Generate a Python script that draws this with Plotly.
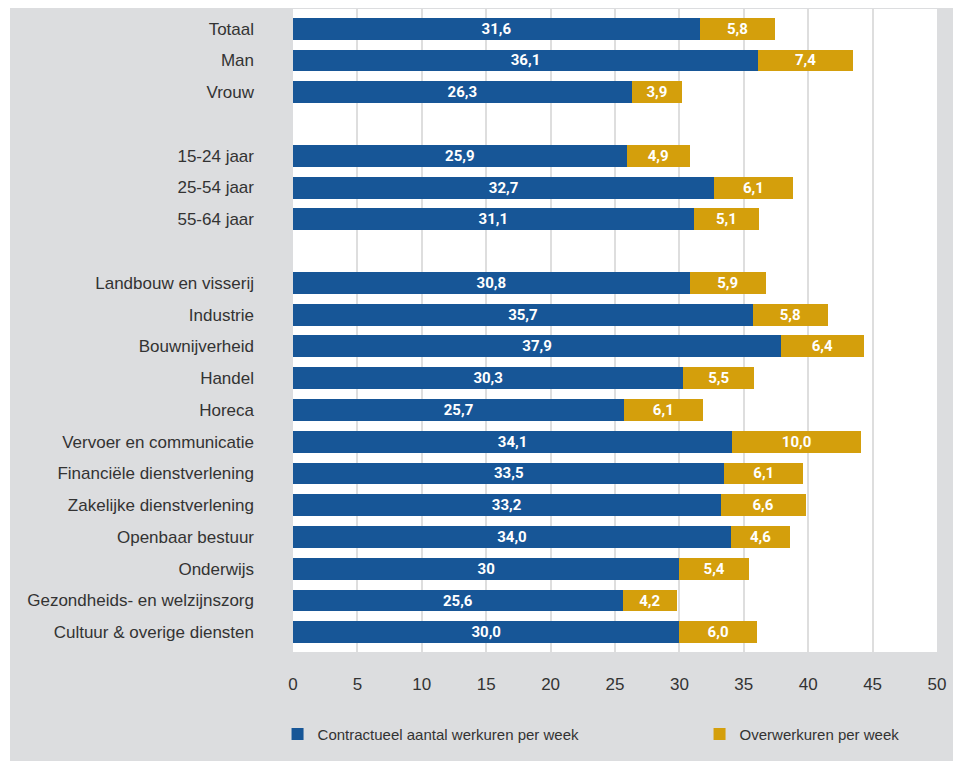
import plotly.graph_objects as go

# ---- data ----
categories = [
    "Totaal", "Man", "Vrouw", "",
    "15-24 jaar", "25-54 jaar", "55-64 jaar", "",
    "Landbouw en visserij", "Industrie", "Bouwnijverheid", "Handel", "Horeca",
    "Vervoer en communicatie", "Financiële dienstverlening",
    "Zakelijke dienstverlening", "Openbaar bestuur", "Onderwijs",
    "Gezondheids- en welzijnszorg", "Cultuur & overige diensten",
]
contract_hours = [31.6, 36.1, 26.3, None, 25.9, 32.7, 31.1, None,
                  30.8, 35.7, 37.9, 30.3, 25.7, 34.1, 33.5, 33.2, 34.0, 30, 25.6, 30.0]
contract_labels = ["31,6", "36,1", "26,3", "", "25,9", "32,7", "31,1", "",
                   "30,8", "35,7", "37,9", "30,3", "25,7", "34,1", "33,5", "33,2",
                   "34,0", "30", "25,6", "30,0"]
overtime_hours = [5.8, 7.4, 3.9, None, 4.9, 6.1, 5.1, None,
                  5.9, 5.8, 6.4, 5.5, 6.1, 10.0, 6.1, 6.6, 4.6, 5.4, 4.2, 6.0]
overtime_labels = ["5,8", "7,4", "3,9", "", "4,9", "6,1", "5,1", "",
                   "5,9", "5,8", "6,4", "5,5", "6,1", "10,0", "6,1", "6,6",
                   "4,6", "5,4", "4,2", "6,0"]
series_names = ["Contractueel aantal werkuren per week", "Overwerkuren per week"]
x_ticks = [0, 5, 10, 15, 20, 25, 30, 35, 40, 45, 50]

positions = list(range(len(categories)))
tick_pos = [p for p, c in zip(positions, categories) if c]
tick_txt = [c for c in categories if c]

BLUE = "#175697"
GOLD = "#d49f0c"
GREY = "#dcdddf"
TEXT = "#333333"

label_font = dict(family="Roboto", size=15, color="white", weight="bold")

fig = go.Figure()
fig.add_trace(go.Bar(
    y=positions, x=contract_hours, orientation="h", name=series_names[0],
    marker=dict(color=BLUE, line=dict(width=0)),
    text=contract_labels, textposition="inside", insidetextanchor="middle",
    textangle=0, insidetextfont=label_font, constraintext="none",
    hoverinfo="x+name", legendwidth=377,
))
fig.add_trace(go.Bar(
    y=positions, x=overtime_hours, orientation="h", name=series_names[1],
    marker=dict(color=GOLD, line=dict(width=0)),
    text=overtime_labels, textposition="inside", insidetextanchor="middle",
    textangle=0, insidetextfont=label_font, constraintext="none",
    hoverinfo="x+name", legendwidth=170,
))

# page body has an 8px margin; figure placed at (8, 8)
W, H = 948, 753
L, R, T, B = 285, 19, 1, 109
pw = W - L - R
ph = H - T - B

fig.update_layout(
    width=W, height=H,
    margin=dict(l=L, r=R, t=T, b=B, pad=0),
    barmode="stack", bargap=0.31,
    paper_bgcolor=GREY, plot_bgcolor="white",
    font=dict(family="Liberation Sans", size=17, color=TEXT),
    xaxis=dict(range=[0, 50], tickvals=x_ticks, ticktext=[str(v) for v in x_ticks],
               showgrid=True, gridcolor="#dedede", gridwidth=1.5, zeroline=False,
               showline=False, ticks="", ticklabelstandoff=20,
               tickfont=dict(size=17, color=TEXT)),
    yaxis=dict(range=[19.62, -0.62], tickvals=tick_pos, ticktext=tick_txt,
               showgrid=False, zeroline=False, showline=False, ticks="",
               ticklabelstandoff=38, tickfont=dict(size=17, color=TEXT)),
    legend=dict(orientation="h", x=-0.024, xanchor="left", y=-0.128, yanchor="middle",
                bgcolor="rgba(0,0,0,0)", font=dict(size=15, color=TEXT),
                traceorder="normal"),
    showlegend=True,
    shapes=[
        dict(type="rect", xref="paper", yref="paper", layer="below",
             x0=-L / pw, x1=(2 - L) / pw, y0=-B / ph, y1=1 + T / ph,
             fillcolor="white", line=dict(width=0)),
    ],
)

fig.write_html("out.html")
